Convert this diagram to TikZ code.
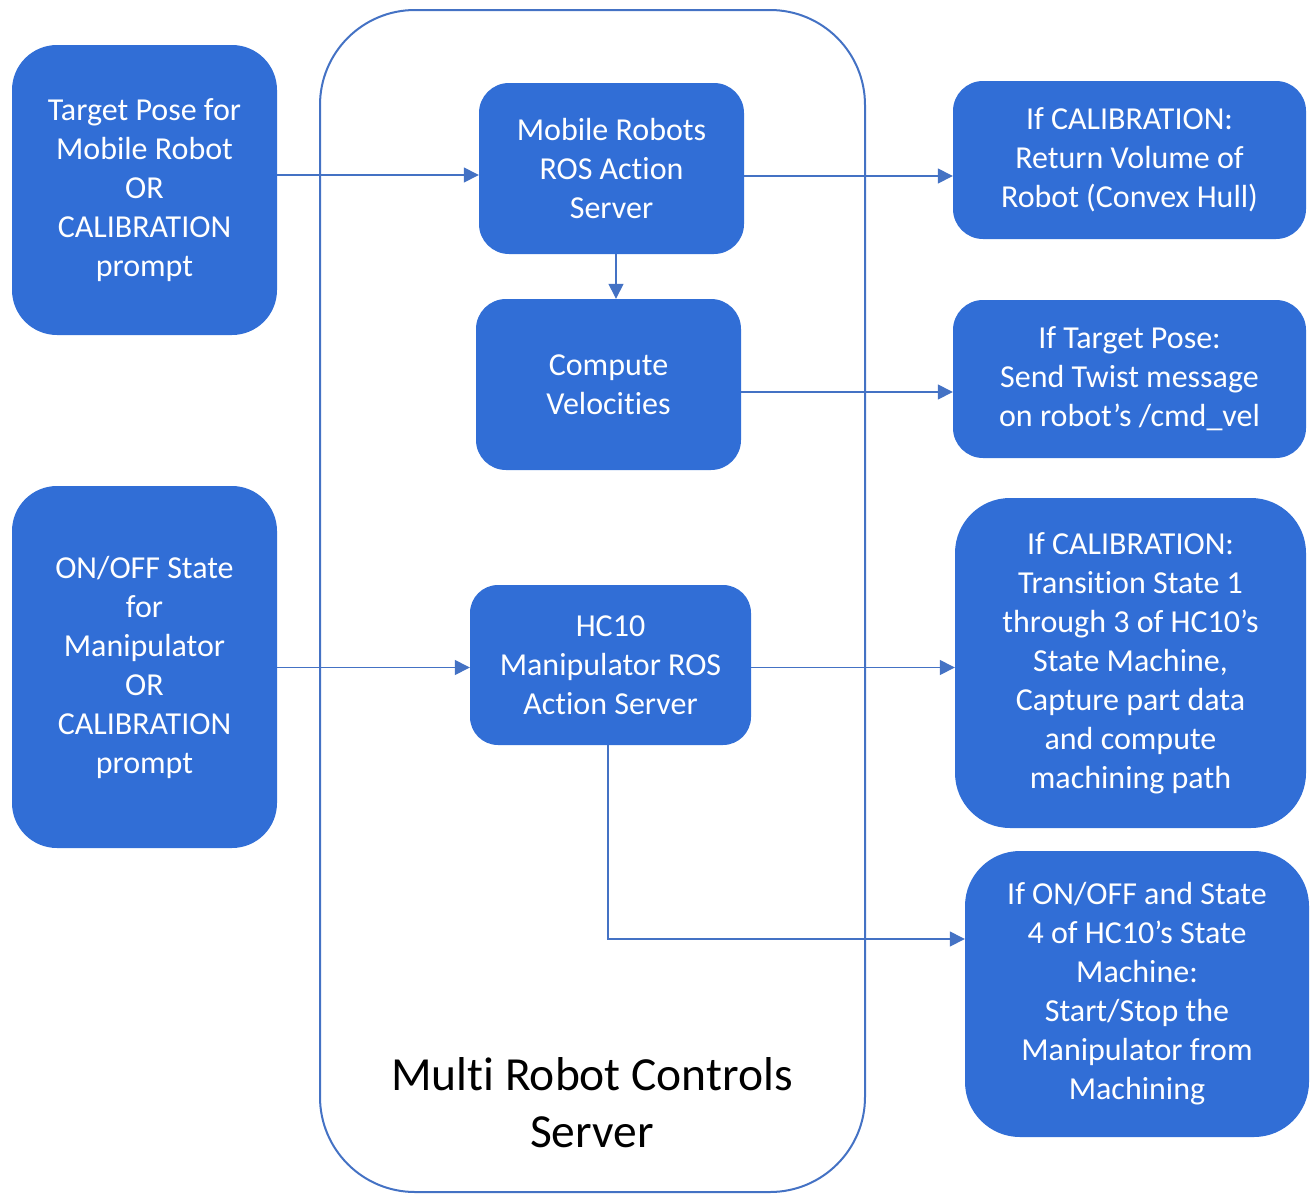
\documentclass[tikz,border=0pt]{standalone}
\usepackage{fontspec}
\setmainfont{Carlito}[Ligatures=NoCommon]
\usetikzlibrary{arrows.meta,calc}
\definecolor{boxblue}{RGB}{49,110,214}
\definecolor{lineblue}{RGB}{68,114,196}
\tikzset{
  bluebox/.style={draw=none,fill=boxblue,text=white,align=center,inner sep=0pt,
    font=\fontsize{32}{39}\selectfont,execute at begin node={\vspace*{7pt}}},
  arr/.style={draw=lineblue,line width=1.4pt,-{Triangle[length=15pt,width=15pt]}},
}
\begin{document}
\begin{tikzpicture}[x=1pt,y=-1pt]
\useasboundingbox (0,0) rectangle (1312,1194);
% container
\draw[lineblue,line width=2pt,rounded corners=95pt] (320,10) rectangle (865,1192);
\node[font=\fontsize{47.5}{57}\selectfont,align=center] (title) at (592,1103) {Multi Robot Controls\\Server};
% left boxes
\node[bluebox,minimum width=265pt,minimum height=290pt,rounded corners=45pt] (LT) at (144.5,190) {Target Pose for\\Mobile Robot\\OR\\CALIBRATION\\prompt};
\node[bluebox,minimum width=265pt,minimum height=362pt,rounded corners=45pt] (LB) at (144.5,667) {ON/OFF State\\for\\Manipulator\\OR\\CALIBRATION\\prompt};
% middle boxes
\node[bluebox,minimum width=265pt,minimum height=171pt,rounded corners=30pt] (MR) at (611.5,168.5) {Mobile Robots\\ROS Action\\Server};
\node[bluebox,minimum width=265pt,minimum height=171pt,rounded corners=30pt] (CV) at (608.5,384.5) {Compute\\Velocities};
\node[bluebox,minimum width=281pt,minimum height=160pt,rounded corners=28pt] (HC) at (610.5,665) {HC10\\Manipulator ROS\\Action Server};
% right boxes
\node[bluebox,minimum width=353pt,minimum height=158pt,rounded corners=30pt] (R1) at (1129.5,160) {If CALIBRATION:\\Return Volume of\\Robot (Convex Hull)};
\node[bluebox,minimum width=353pt,minimum height=158pt,rounded corners=30pt] (R2) at (1129.5,379) {If Target Pose:\\Send Twist message\\on robot’s /cmd\_vel};
\node[bluebox,minimum width=351pt,minimum height=330pt,rounded corners=55pt] (R3) at (1130.5,663) {If CALIBRATION:\\Transition State 1\\through 3 of HC10’s\\State Machine,\\Capture part data\\and compute\\machining path};
\node[bluebox,minimum width=344pt,minimum height=286pt,rounded corners=55pt] (R4) at (1137,994) {If ON/OFF and State\\4 of HC10’s State\\Machine:\\Start/Stop the\\Manipulator from\\Machining};
% connectors
\coordinate (a1) at (0,175);
\draw[arr] (LT.east |- a1) -- (MR.west |- a1);
\coordinate (a2) at (0,176);
\draw[arr] (MR.east |- a2) -- (R1.west |- a2);
\coordinate (a3) at (616,0);
\draw[arr] (MR.south -| a3) -- (CV.north -| a3);
\coordinate (a4) at (0,392);
\draw[arr] (CV.east |- a4) -- (R2.west |- a4);
\coordinate (a5) at (0,667.5);
\draw[arr] (LB.east |- a5) -- (HC.west |- a5);
\draw[arr] (HC.east |- a5) -- (R3.west |- a5);
\coordinate (a6) at (608,939);
\draw[arr] (HC.south -| a6) -- (a6) -- (R4.west |- a6);
\end{tikzpicture}
\end{document}
